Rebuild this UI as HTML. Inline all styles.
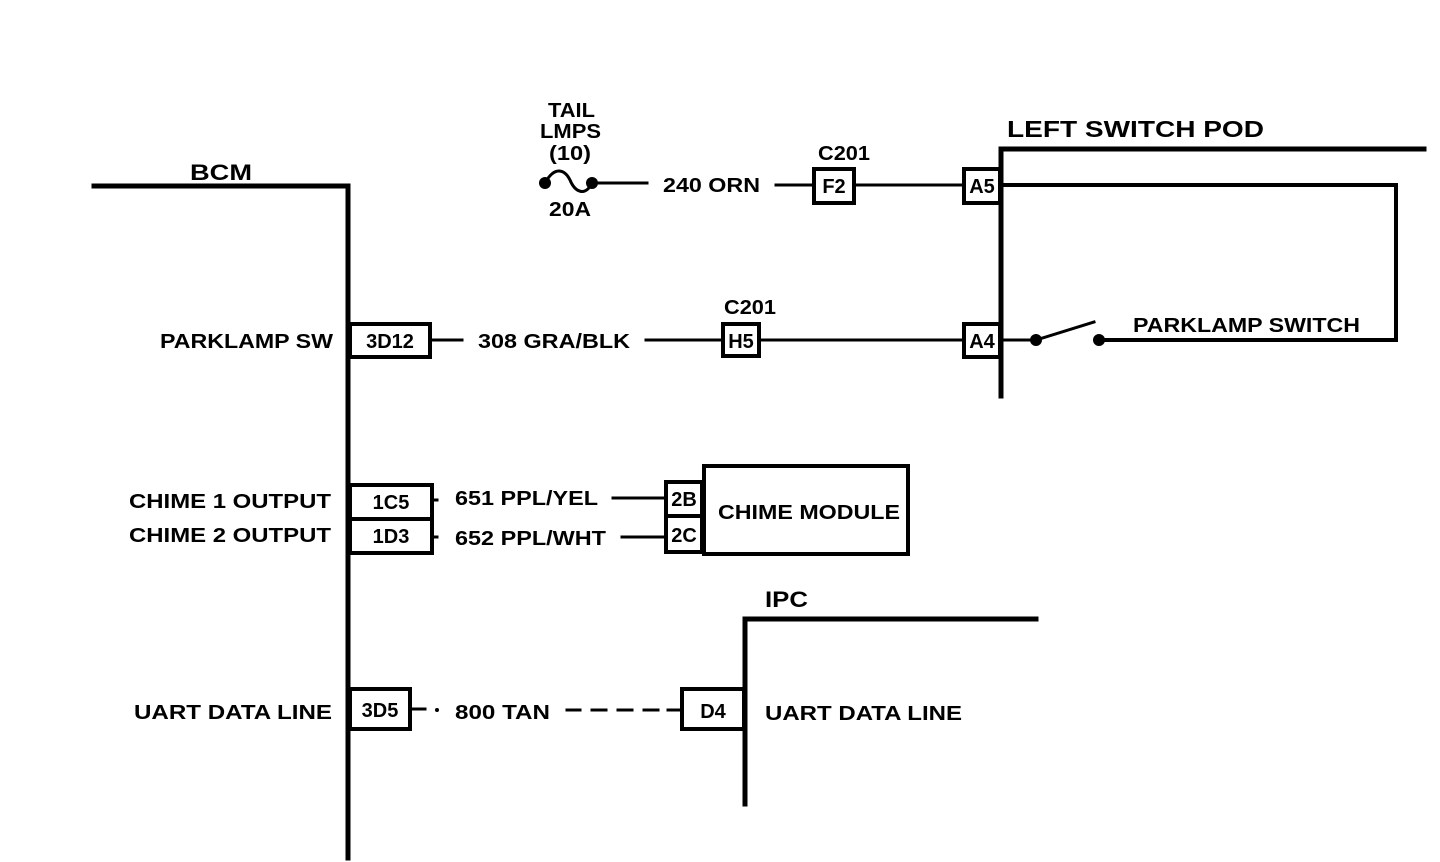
<!DOCTYPE html>
<html><head><meta charset="utf-8"><style>
html,body{margin:0;padding:0;background:#fff}
svg{display:block}
text{font-family:"Liberation Sans",Arial,sans-serif;font-weight:bold;font-size:20px;fill:#000}
</style></head><body>
<svg width="1440" height="862" viewBox="0 0 1440 862" xmlns="http://www.w3.org/2000/svg">
<g stroke="#000" fill="none" stroke-linecap="square">
<path d="M94 186 H348 V858" stroke-width="5"/>
<path d="M1001 396 V149 H1424" stroke-width="5"/>
<path d="M1001 185 H1396 V340 H1099" stroke-width="4"/>
<path d="M745 804 V619 H1036" stroke-width="5"/>
<g stroke-width="3">
<path d="M592 183 H647"/>
<path d="M776 185 H813"/>
<path d="M855 185 H963"/>
<path d="M431 340 H462"/>
<path d="M646 340 H722"/>
<path d="M760 340 H963"/>
<path d="M1001 340 H1036"/>
<path d="M1036 340 L1094 322"/>
<path d="M433 500 H437"/>
<path d="M433 537 H437"/>
<path d="M613 498 H665"/>
<path d="M622 537 H665"/>
<path d="M411 709 H425"/>
<path d="M567 710 H580 M592 710 H606 M618 710 H632 M644 710 H658 M668 710 H680"/>
</g>
<path d="M545 183 C555 165 565 170 570 180 C575 192 585 197 592 183" stroke-width="3"/>
<g stroke-width="4" fill="#fff">
<rect x="350" y="324" width="80" height="33"/>
<rect x="723" y="324" width="36" height="32"/>
<rect x="964" y="324" width="36" height="33"/>
<rect x="814" y="169" width="40" height="34"/>
<rect x="964" y="169" width="36" height="34"/>
<rect x="350" y="485" width="82" height="34"/>
<rect x="350" y="519" width="82" height="34"/>
<rect x="704" y="466" width="204" height="88"/>
<rect x="666" y="482" width="36" height="34"/>
<rect x="666" y="516" width="36" height="36"/>
<rect x="350" y="689" width="60" height="40"/>
<rect x="682" y="689" width="62" height="40"/>
</g>
</g>
<g fill="#000">
<circle cx="545" cy="183" r="6"/>
<circle cx="592" cy="183" r="6"/>
<circle cx="1036" cy="340" r="6"/>
<circle cx="1099" cy="340" r="6"/>
<circle cx="437" cy="710" r="2"/>
</g>
<text x="190" y="180" style="font-size:22px" textLength="62" lengthAdjust="spacingAndGlyphs">BCM</text>
<text x="1007" y="137" style="font-size:23px" textLength="257" lengthAdjust="spacingAndGlyphs">LEFT SWITCH POD</text>
<text x="765" y="607" style="font-size:22px" textLength="43" lengthAdjust="spacingAndGlyphs">IPC</text>
<text x="548" y="117" textLength="47" lengthAdjust="spacingAndGlyphs">TAIL</text>
<text x="540" y="138" textLength="61" lengthAdjust="spacingAndGlyphs">LMPS</text>
<text x="549" y="160" textLength="42" lengthAdjust="spacingAndGlyphs">(10)</text>
<text x="549" y="216" textLength="42" lengthAdjust="spacingAndGlyphs">20A</text>
<text x="818" y="160" textLength="52" lengthAdjust="spacingAndGlyphs">C201</text>
<text x="724" y="314" textLength="52" lengthAdjust="spacingAndGlyphs">C201</text>
<g text-anchor="middle">
<text x="834" y="193">F2</text>
<text x="982" y="193">A5</text>
<text x="390" y="348">3D12</text>
<text x="741" y="348">H5</text>
<text x="982" y="348">A4</text>
<text x="391" y="509">1C5</text>
<text x="391" y="543">1D3</text>
<text x="684" y="506">2B</text>
<text x="684" y="542">2C</text>
<text x="380" y="717">3D5</text>
<text x="713" y="718">D4</text>
</g>
<text x="718" y="519" textLength="182" lengthAdjust="spacingAndGlyphs">CHIME MODULE</text>
<text x="160" y="348" textLength="173" lengthAdjust="spacingAndGlyphs">PARKLAMP SW</text>
<text x="129" y="508" textLength="202" lengthAdjust="spacingAndGlyphs">CHIME 1 OUTPUT</text>
<text x="129" y="542" textLength="202" lengthAdjust="spacingAndGlyphs">CHIME 2 OUTPUT</text>
<text x="134" y="719" textLength="198" lengthAdjust="spacingAndGlyphs">UART DATA LINE</text>
<text x="663" y="192" textLength="97" lengthAdjust="spacingAndGlyphs">240 ORN</text>
<text x="478" y="348" textLength="152" lengthAdjust="spacingAndGlyphs">308 GRA/BLK</text>
<text x="1133" y="332" textLength="227" lengthAdjust="spacingAndGlyphs">PARKLAMP SWITCH</text>
<text x="455" y="505" textLength="143" lengthAdjust="spacingAndGlyphs">651 PPL/YEL</text>
<text x="455" y="545" textLength="151" lengthAdjust="spacingAndGlyphs">652 PPL/WHT</text>
<text x="455" y="719" textLength="95" lengthAdjust="spacingAndGlyphs">800 TAN</text>
<text x="765" y="720" textLength="197" lengthAdjust="spacingAndGlyphs">UART DATA LINE</text>
</svg>
</body></html>
